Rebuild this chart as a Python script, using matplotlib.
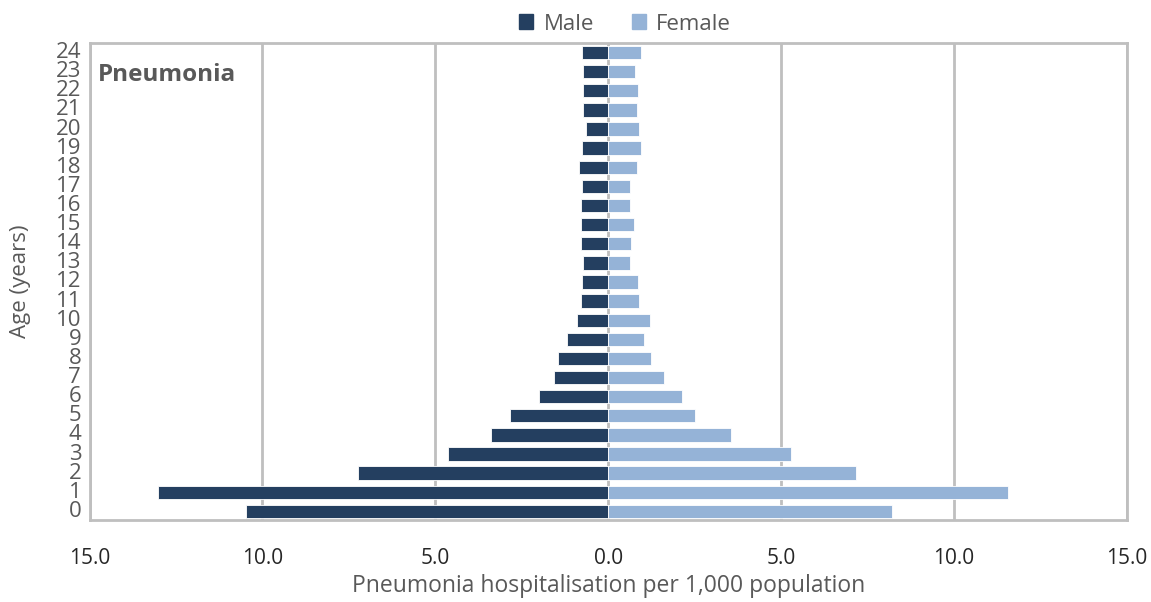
import matplotlib
matplotlib.use("Agg")
import matplotlib.pyplot as plt
from matplotlib.patches import Patch
import numpy as np

ages = list(range(25))
male = [10.48, 13.03, 7.23, 4.63, 3.39, 2.85, 1.99, 1.56, 1.45, 1.18, 0.91, 0.79,
        0.77, 0.72, 0.79, 0.79, 0.79, 0.77, 0.84, 0.77, 0.64, 0.72, 0.72, 0.72, 0.77]
female = [8.20, 11.57, 7.16, 5.28, 3.55, 2.50, 2.13, 1.62, 1.24, 1.04, 1.20, 0.89,
          0.85, 0.63, 0.67, 0.74, 0.63, 0.63, 0.82, 0.94, 0.89, 0.82, 0.85, 0.78, 0.94]
xticks = [-15, -10, -5, 0, 5, 10, 15]
xtick_labels = ["15.0", "10.0", "5.0", "0.0", "5.0", "10.0", "15.0"]

MALE_C = "#243F60"
FEMALE_C = "#95B3D7"
GRID_C = "#BFBFBF"
TXT_C = "#595959"

plt.rcParams['font.family'] = ['Open Sans', 'DejaVu Sans']

fig = plt.figure(figsize=(11.51, 6.02), dpi=100)
ax = fig.add_axes([0.0778, 0.1362, 0.9012, 0.7924])

y = np.array(ages)
ax.barh(y, -np.array(male), height=0.7, color=MALE_C, edgecolor="white", linewidth=0.6, zorder=3)
ax.barh(y, np.array(female), height=0.7, color=FEMALE_C, edgecolor="white", linewidth=0.6, zorder=3)

ax.set_xlim(-15, 15)
ax.set_ylim(-0.45, 24.5)
ax.set_xticks(xticks)
ax.set_xticklabels(xtick_labels, fontsize=15, color="#262626")
ax.set_yticks(ages)
ax.set_yticklabels([str(a) for a in ages], fontsize=16, color=TXT_C)
ax.tick_params(axis='both', length=0)
ax.tick_params(axis='x', pad=20)
ax.tick_params(axis='y', pad=6)
for yl in ax.get_yticklabels():
    yl.set_verticalalignment('center')

ax.xaxis.grid(True, color=GRID_C, linewidth=2, zorder=1)
ax.set_axisbelow(True)
for s in ax.spines.values():
    s.set_color(GRID_C)
    s.set_linewidth(2)

ax.set_xlabel("Pneumonia hospitalisation per 1,000 population", fontsize=16.5, color=TXT_C, labelpad=4)
ax.set_ylabel("Age (years)", fontsize=16, color=TXT_C)
ax.yaxis.set_label_coords(-0.056, 0.5)

ax.text(0.008, 0.958, "Pneumonia", transform=ax.transAxes, fontsize=17.5, fontweight='bold',
        color=TXT_C, va='top', ha='left')

handles = [Patch(color=MALE_C, label="Male"), Patch(color=FEMALE_C, label="Female")]
fig.legend(handles=handles, loc='center', bbox_to_anchor=(0.543, 0.96), ncol=2, frameon=False,
           fontsize=16, handlelength=0.65, handleheight=0.65, handletextpad=0.45, columnspacing=1.7,
           labelcolor=TXT_C)

fig.savefig("out.png", dpi=100)
